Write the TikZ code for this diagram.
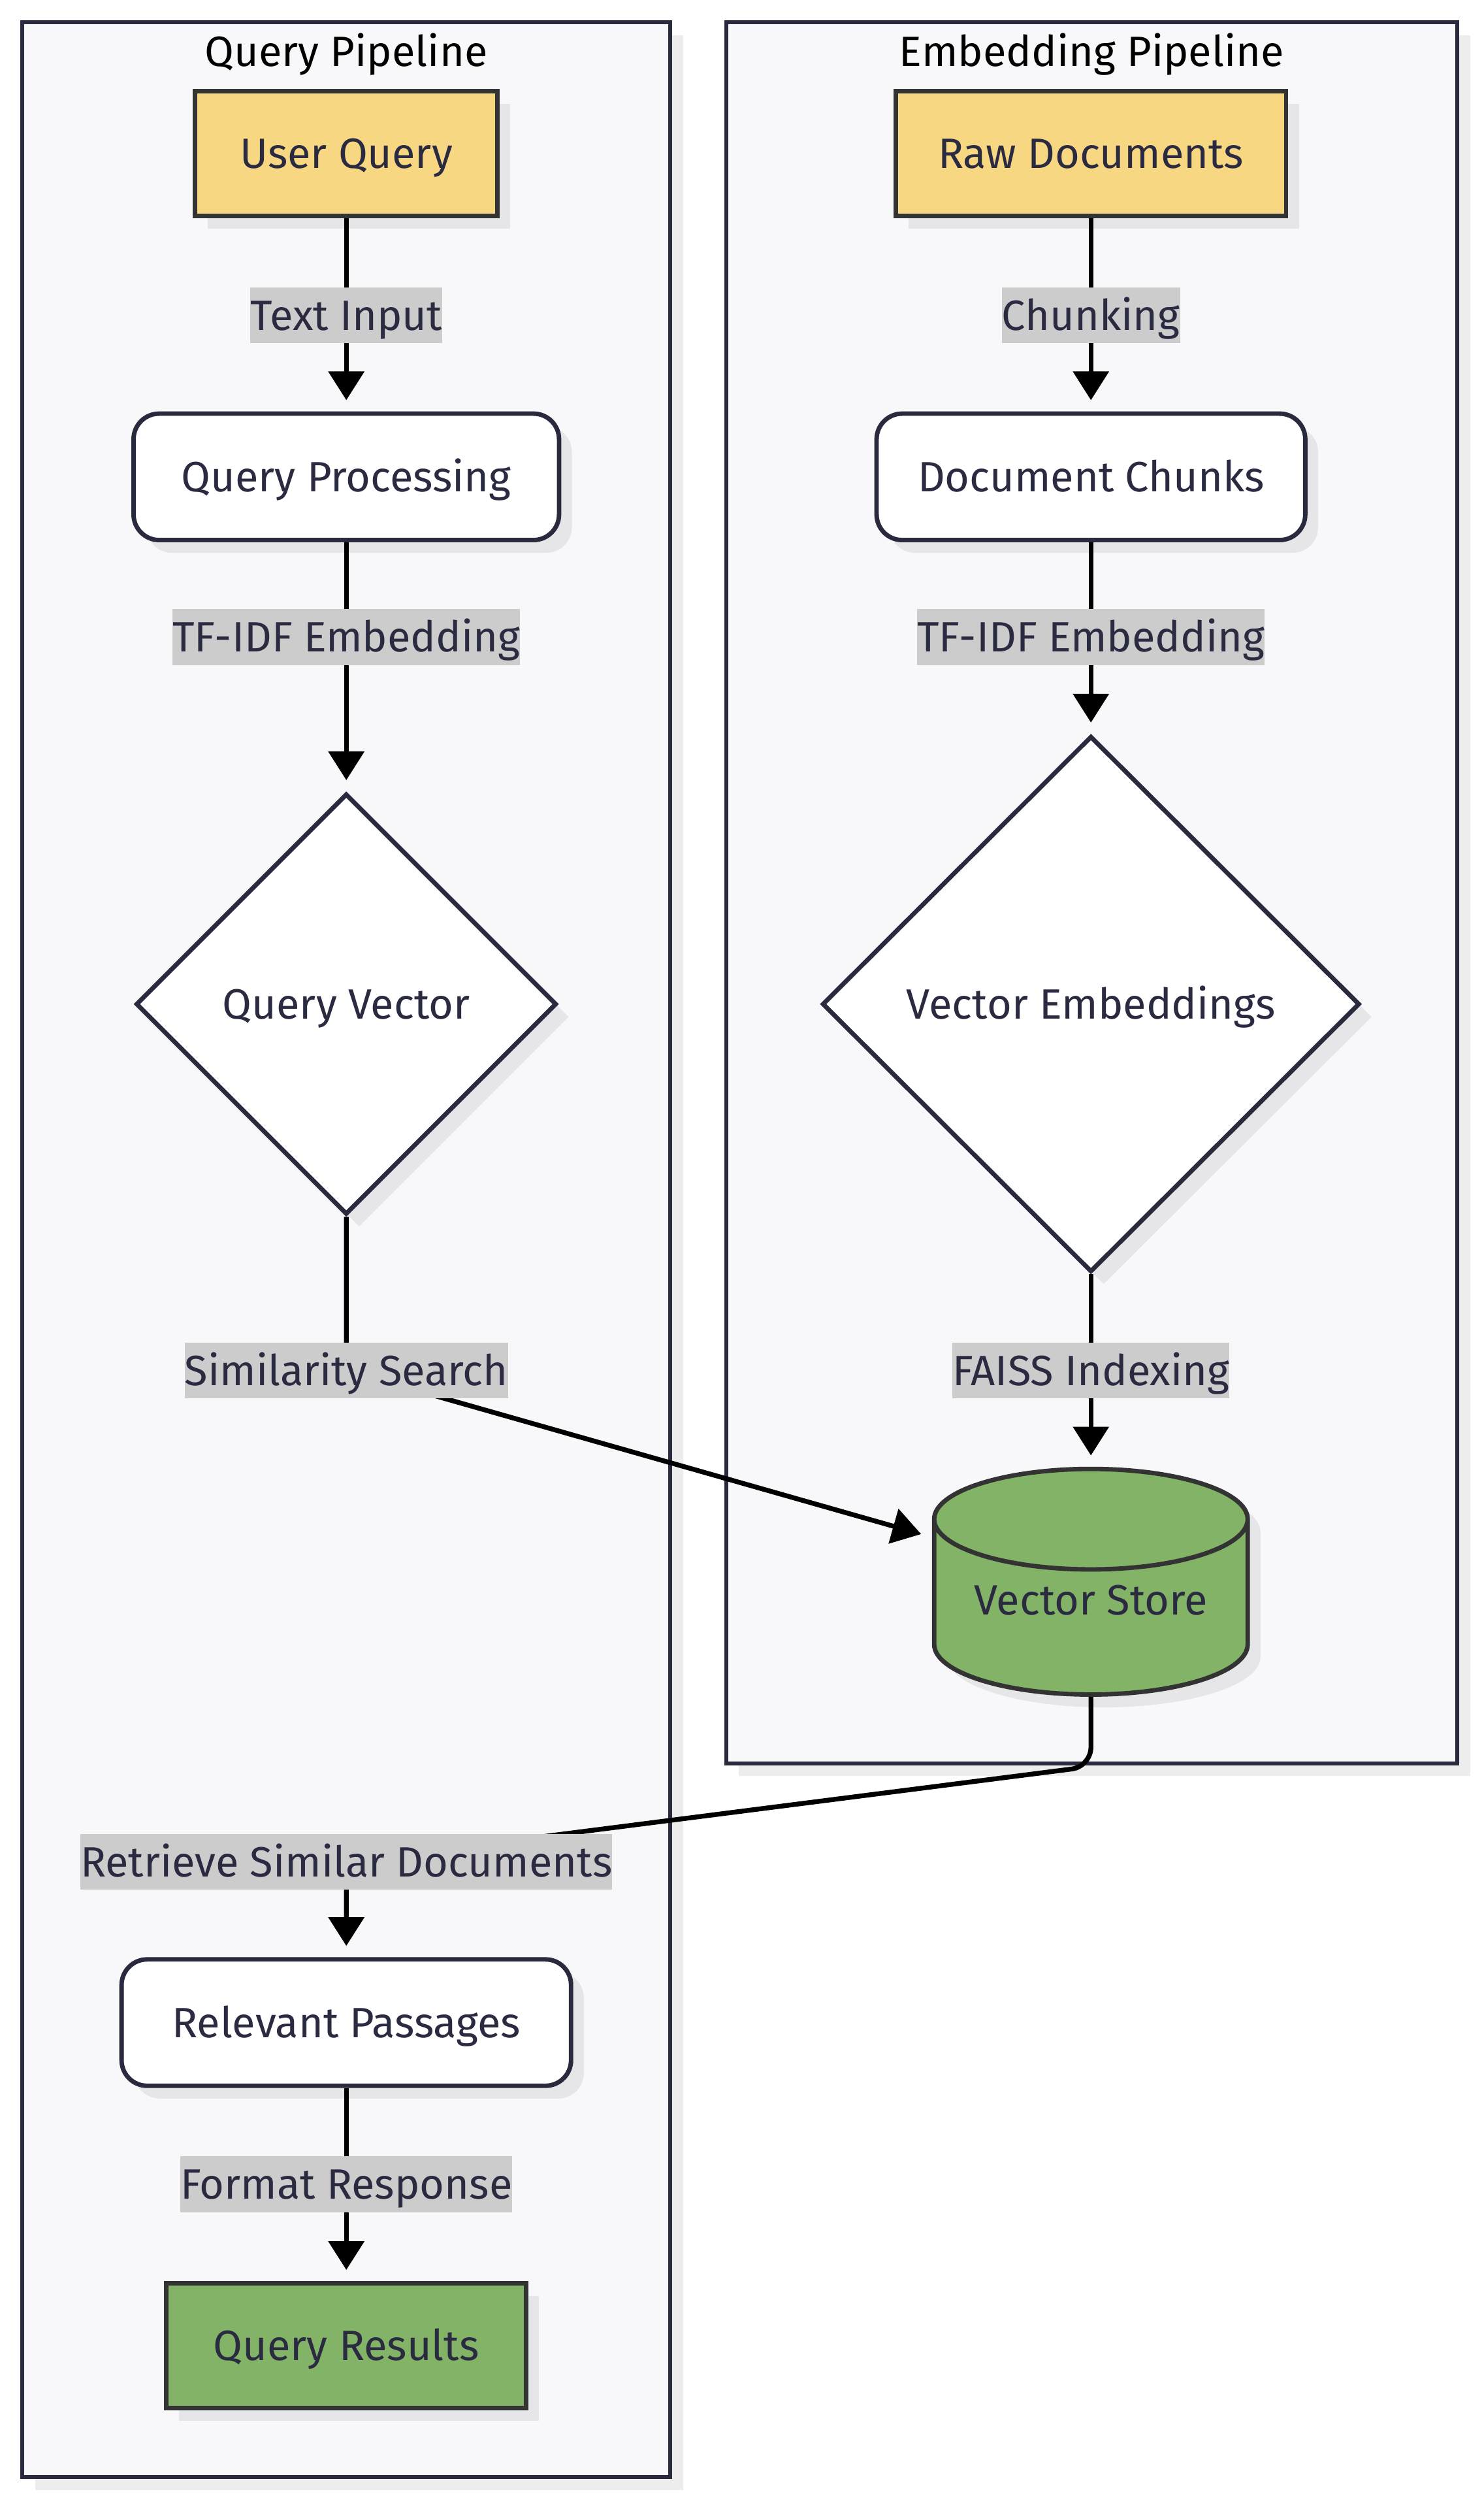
\documentclass[tikz,border=0pt]{standalone}
\usepackage{fontspec}
\setmainfont{Fira Sans}
\usetikzlibrary{arrows.meta,shapes.geometric,shadows}

\definecolor{panelfill}{HTML}{F8F8FA}
\definecolor{panelline}{HTML}{2A2A3F}
\definecolor{inkblue}{HTML}{2A2A40}
\definecolor{sunfill}{HTML}{F8D783}
\definecolor{leaffill}{HTML}{82B366}
\definecolor{boxline}{HTML}{333333}
\definecolor{tagfill}{HTML}{CCCCCC}

\begin{document}
\begin{tikzpicture}
        [x=1pt, y=-1pt, font=\fontsize{26.5}{30}\selectfont,
         every node/.style={text=inkblue, inner sep=0, text height=18.5pt, text depth=0pt},
         lift/.style={drop shadow={shadow xshift=8pt, shadow yshift=-8pt, fill=black, opacity=0.07}},
         cluster/.style={draw=panelline, fill=panelfill, line width=2.6pt, lift},
         headline/.style={text=black},
         startbox/.style={rectangle, draw=boxline, fill=sunfill, line width=2.8pt, minimum height=78, lift},
         stepbox/.style={rectangle, rounded corners=16pt, draw=panelline, fill=white, line width=2.8pt, minimum height=79, lift},
         choicebox/.style={diamond, draw=panelline, fill=white, line width=2.8pt, lift},
         storebox/.style={cylinder, shape border rotate=90, aspect=0.43, anchor=shape center, text depth=10pt, draw=boxline, fill=leaffill, line width=2.8pt, lift},
         endbox/.style={rectangle, draw=boxline, fill=leaffill, line width=2.8pt, minimum height=78, lift},
         edgetag/.style={fill=tagfill, sharp corners, minimum height=35},
         arrowline/.style={line width=3pt, black, -{Triangle[length=18pt,width=22pt]}, shorten >=7pt}]

        \useasboundingbox (0, 0) rectangle (927.7, 1568);

        \node[cluster, minimum width=405, minimum height=1534] (qpipe) at (216.5, 781) {};
        \node[cluster, minimum width=457, minimum height=1088] (epipe) at (682.5, 558) {};
        \node[headline] (qhead) at (216.5, 32) {Query Pipeline};
        \node[headline] (ehead) at (682.5, 32) {Embedding Pipeline};

        \node[startbox, minimum width=189] (q1) at (216.5, 96) {User Query};
        \node[stepbox, minimum width=266] (q2) at (216.5, 298) {Query Processing};
        \node[choicebox, minimum width=263, minimum height=263] (q3) at (216.5, 627.5) {Query Vector};
        \node[stepbox, minimum width=281] (q4) at (216.5, 1264) {Relevant Passages};
        \node[endbox, minimum width=225] (q5) at (216.5, 1466) {Query Results};

        \node[startbox, minimum width=244] (e1) at (682, 96) {Raw Documents};
        \node[stepbox, minimum width=268] (e2) at (682, 298) {Document Chunks};
        \node[choicebox, minimum width=336, minimum height=335] (e3) at (682, 627.5) {Vector Embeddings};
        \node[storebox, minimum width=196, minimum height=141] (e4) at (682, 988.5) {Vector Store};

        \draw[arrowline] (q1) -- (216.5, 197) node[edgetag] (t1) {Text Input} -- (q2);
        \draw[arrowline] (q2) -- (216.5, 398) node[edgetag] (t2) {TF-IDF Embedding} -- (q3);
        \draw[arrowline] (q3) -- (216.5, 856.5) node[edgetag] (t3) {Similarity Search} -- (e4.156);
        \draw[arrowline] (q4) -- (216.5, 1365) node[edgetag] (t4) {Format Response} -- (q5);
        \draw[arrowline] (e1) -- (682, 197) node[edgetag] (s1) {Chunking} -- (e2);
        \draw[arrowline] (e2) -- (682, 398) node[edgetag] (s2) {TF-IDF Embedding} -- (e3);
        \draw[arrowline] (e3) -- (682, 856.5) node[edgetag] (s3) {FAISS Indexing} -- (e4);
        \draw[arrowline, rounded corners=12pt] (e4) -- (682, 1104) -- (216.5, 1163.5) node[edgetag] (s4) {Retrieve Similar Documents} -- (q4);

      \end{tikzpicture}
\end{document}
